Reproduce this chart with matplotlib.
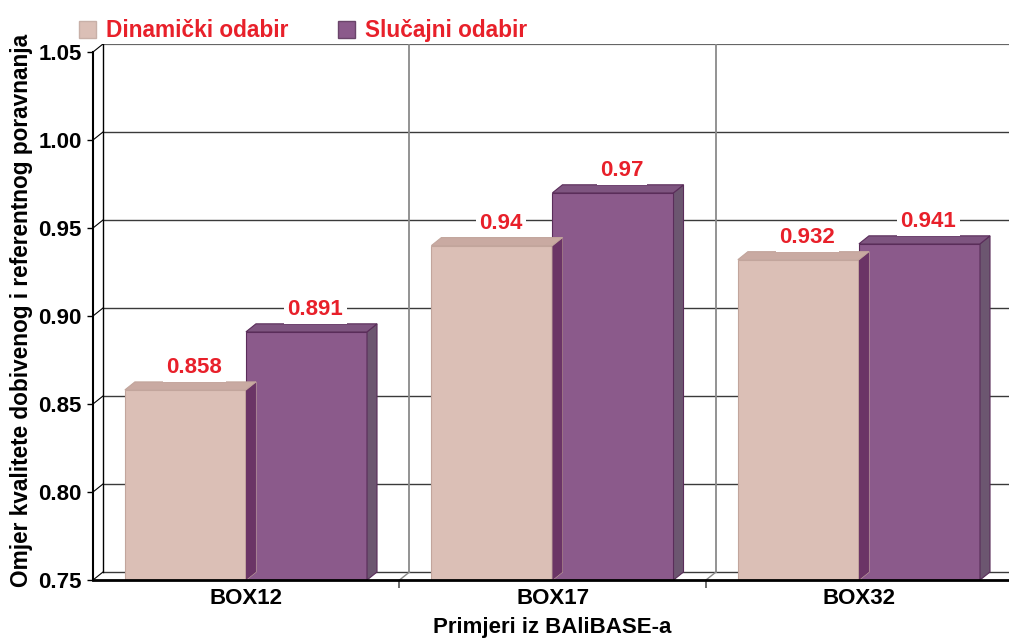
import matplotlib
matplotlib.use("Agg")
import matplotlib.pyplot as plt
from matplotlib.patches import Polygon, Patch

plt.rcParams['font.family'] = ['Liberation Sans', 'DejaVu Sans']
plt.rcParams['font.weight'] = 'bold'

categories = ["BOX12", "BOX17", "BOX32"]
dinamicki = [0.858, 0.94, 0.932]
slucajni = [0.891, 0.97, 0.941]
series_names = ["Dinamički odabir", "Slučajni odabir"]
yticks = [0.75, 0.80, 0.85, 0.90, 0.95, 1.00, 1.05]

W, H = 1009, 639
cat_px = 306.5
dx_px, dy_px = 10, 8
ymin, ymax = 0.75, 1.05
px_per_unit = 88 / 0.05
dx = dx_px / cat_px
dy = dy_px / px_per_unit

red = '#E8202A'
pink, pink_top, pink_edge = '#DBBFB6', '#C9AAA2', '#C2A59C'
purp, purp_top, purp_side, purp_edge = '#8B5A8B', '#7E5580', '#6C5670', '#5A2D5A'
pink_side_dark = '#6B3466'

fig = plt.figure(figsize=(W / 100, H / 100), dpi=100)
ax = fig.add_axes([93 / W, (H - 580) / H, (3 * cat_px + dx_px) / W, (580 - 52 + dy_px) / H])
ax.set_xlim(0, 3 + dx)
ax.set_ylim(ymin, ymax + dy)

# back wall grid
for y in yticks:
    top = y == ymax
    ax.plot([dx, 3 + dx], [y + dy, y + dy], color='#666666' if top else '#3a3a3a',
            lw=1.6 if top else 1, zorder=1)
    ax.plot([0, dx], [y, y + dy], color='black', lw=0.8, zorder=1)
ax.plot([dx, dx], [ymin + dy, ymax + dy], color='black', lw=1, zorder=1)
for i in range(1, 3):
    ax.plot([i + dx, i + dx], [ymin + dy, ymax + dy], color='#8a8a8a', lw=1.3, zorder=1)
    ax.plot([i, i + dx], [ymin, ymin + dy], color='#8a8a8a', lw=1, zorder=1)

bw = 0.395
off = 0.104


def draw_bar(x0, v, front, top, side, edge, z):
    ax.bar(x0, v - ymin, bottom=ymin, width=bw, align='edge', color=front,
           edgecolor=edge, lw=0.8, zorder=z)
    ax.add_patch(Polygon([(x0, v), (x0 + bw, v), (x0 + bw + dx, v + dy), (x0 + dx, v + dy)],
                         closed=True, fc=top, ec=edge, lw=0.8, zorder=z + 0.2))
    ax.add_patch(Polygon([(x0 + bw, ymin), (x0 + bw + dx, ymin + dy), (x0 + bw + dx, v + dy), (x0 + bw, v)],
                         closed=True, fc=side, ec=edge, lw=0.8, zorder=z + 0.1))


for i in range(len(categories)):
    x_d = i + off
    x_s = i + off + bw
    draw_bar(x_d, dinamicki[i], pink, pink_top, pink_side_dark, pink_edge, 3)
    draw_bar(x_s, slucajni[i], purp, purp_top, purp_side, purp_edge, 3)
    # pink side seen through the purple bar
    ax.add_patch(Polygon([(x_s, ymin), (x_s + dx, ymin + dy), (x_s + dx, dinamicki[i] + dy), (x_s, dinamicki[i])],
                         closed=True, fc=pink_side_dark, ec='none', zorder=3.15))
    for x0, v in [(x_d, dinamicki[i]), (x_s, slucajni[i])]:
        ax.text(x0 + bw / 2 + dx * 0.9, v + 0.0125, f"{v:g}", color=red, fontsize=16,
                fontweight='bold', ha='center', va='center', zorder=6,
                bbox=dict(boxstyle='square,pad=0.15', fc='white', ec='none'))

# axes
for s in ['top', 'right']:
    ax.spines[s].set_visible(False)
ax.spines['left'].set_bounds(ymin, ymax)
ax.spines['left'].set_linewidth(1.5)
ax.spines['bottom'].set_linewidth(2)
ax.spines['bottom'].set_zorder(7)
ax.set_yticks(yticks)
ax.set_yticklabels([f"{t:.2f}" for t in yticks], fontsize=16, fontweight='bold')
ax.tick_params(axis='y', length=4, width=1, pad=4)
ax.set_xticks([1, 2])
ax.set_xticklabels(['', ''])
ax.tick_params(axis='x', which='major', length=6, width=1.2, color='#555555')
ax.set_xticks([0.5, 1.5, 2.5], minor=True)
ax.set_xticklabels(categories, minor=True, fontsize=16, fontweight='bold')
ax.tick_params(axis='x', which='minor', length=0, pad=6)

fig.text(22 / W, 1 - 310 / H, "Omjer kvalitete dobivenog i referentnog poravnanja",
         rotation=90, ha='center', va='center', fontsize=16.3, fontweight='bold')
fig.text(552 / W, 1 - 628 / H, "Primjeri iz BAliBASE-a", ha='center', va='center',
         fontsize=16, fontweight='bold')

handles = [Patch(facecolor=pink, edgecolor='#c8b0a8'), Patch(facecolor=purp, edgecolor='#6a456a')]
leg = fig.legend(handles, series_names, loc='upper left', bbox_to_anchor=(61 / W, 1 - 1 / H),
                 ncol=2, frameon=False, fontsize=16.3, handlelength=0.75, handleheight=0.75,
                 handletextpad=0.44, columnspacing=2.2, borderpad=0.3)
for t in leg.get_texts():
    t.set_color(red)
    t.set_fontweight('bold')

fig.savefig("out.png", dpi=100)
